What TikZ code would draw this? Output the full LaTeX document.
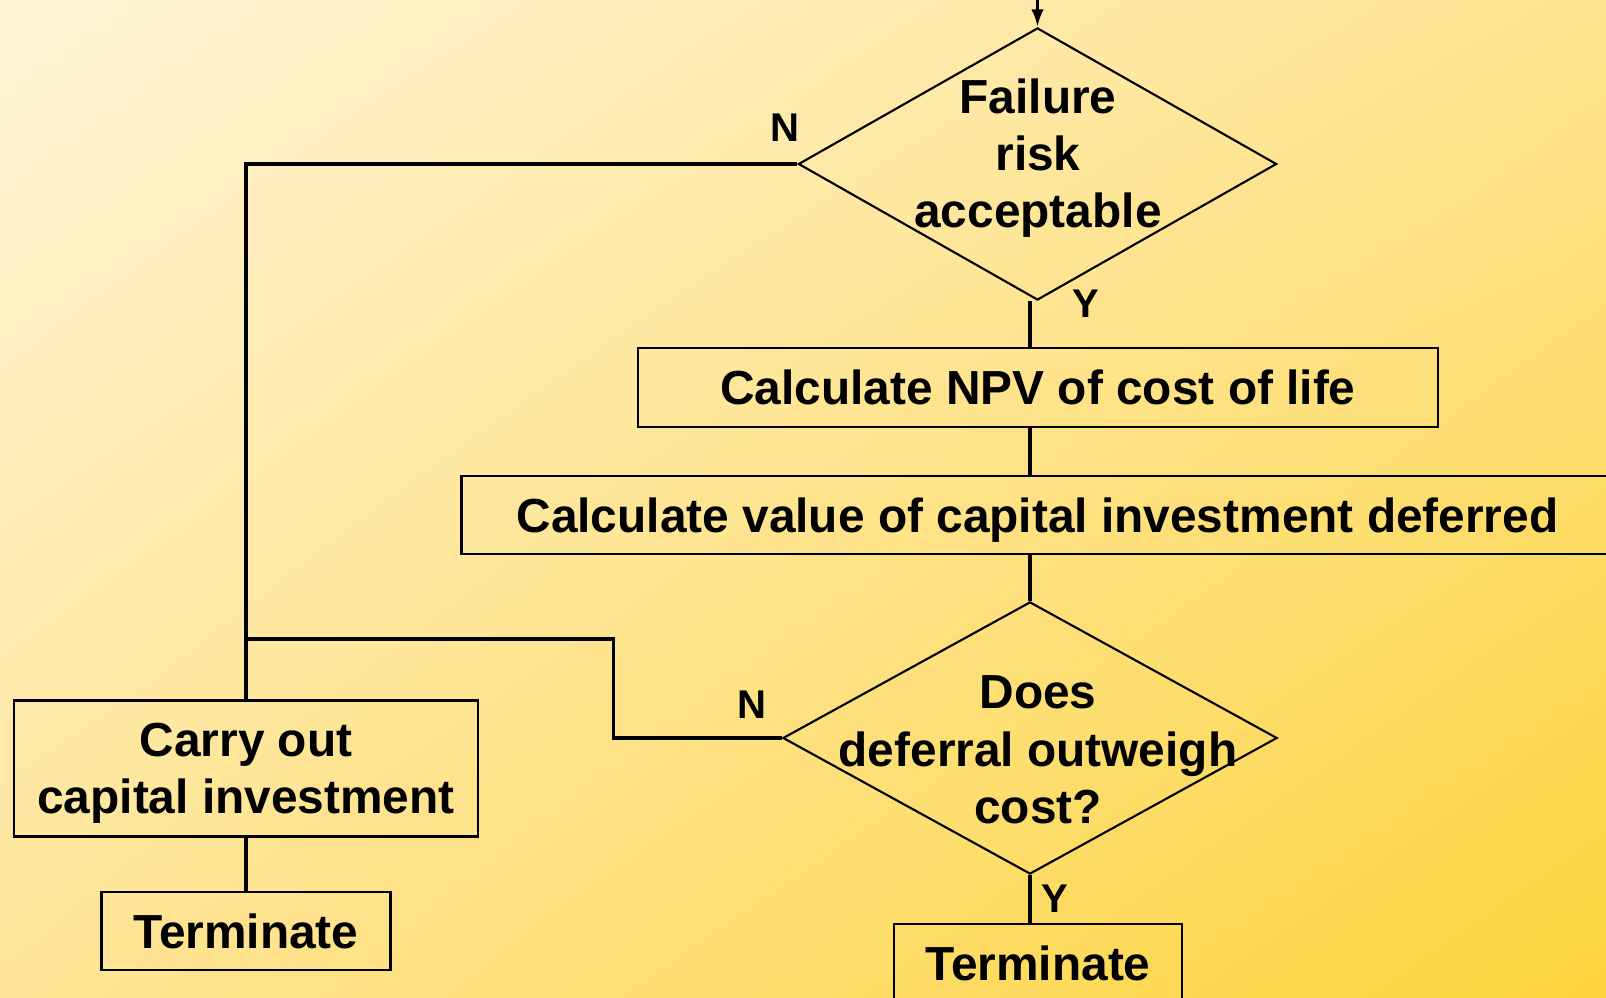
\documentclass[tikz,border=0pt]{standalone}
\usepackage{fontspec}
\setmainfont{Liberation Sans}
\usetikzlibrary{shapes.geometric,arrows.meta,shadings}

\definecolor{bgtl}{RGB}{255,245,216}
\definecolor{bgtr}{RGB}{254,227,144}
\definecolor{bgbl}{RGB}{254,229,152}
\definecolor{bgbr}{RGB}{252,212,60}

\begin{document}
\begin{tikzpicture}[x=0.01cm, y=-0.01cm,
    box/.style={draw, line width=0.7pt, inner sep=0pt, align=center,
      text depth=0pt, font=\bfseries\fontsize{13.6}{16.3}\selectfont},
    decision/.style={draw, diamond, line width=0.6pt, inner sep=0pt},
    dtext/.style={align=center, font=\bfseries\fontsize{13.6}{16.3}\selectfont},
    yn/.style={font=\bfseries\fontsize{11.4}{13}\selectfont},
    link/.style={line width=0.9pt}]
      \useasboundingbox (0,0) rectangle (1606,998);
      \shade[upper left=bgtl, upper right=bgtr, lower left=bgbl, lower right=bgbr]
        (0,0) rectangle (1606,998);

      % first decision
      \coordinate (entry) at (1037.5,-2);
      \node[decision, minimum width=4.78cm, minimum height=2.72cm] (risk) at (1037.5,164) {};
      \node[dtext] (risktxt) at (1038,158) {Failure\\risk\\acceptable};
      \node[yn] (n1) at (785,128) {N};
      \node[yn] (y1) at (1086,304) {Y};

      \node[box, minimum width=8cm, minimum height=0.79cm] (npv) at (1038,387.5) {Calculate NPV of cost of life};
      \node[box, minimum width=11.51cm, minimum height=0.78cm] (value) at (1037.5,515) {Calculate value of capital investment deferred};

      % second decision
      \node[decision, minimum width=4.94cm, minimum height=2.72cm] (check) at (1030,738) {};
      \node[dtext] (checktxt) at (1038,750) {Does\\deferral outweigh\\cost?};
      \node[yn] (n2) at (752,705) {N};
      \node[yn] (y2) at (1055,899) {Y};

      \node[box, minimum width=4.64cm, minimum height=1.36cm] (carry) at (246,768.5) {Carry out\\capital investment};
      \node[box, minimum width=2.89cm, minimum height=0.78cm] (term1) at (246,931) {Terminate};
      \node[box, minimum width=2.88cm, minimum height=0.78cm] (term2) at (1038,963) {Terminate};
      \coordinate (merge) at (246,639);

      \draw[link, -{Latex[length=5pt,width=3.6pt]}] (entry) -- (risk.north);
      \draw[link] (risk.west) -| (carry.north);
      \draw[link] (risk.south -| check.north) -- (npv.north -| check.north);
      \draw[link] (npv.south -| check.north) -- (value.north -| check.north);
      \draw[link] (value.south -| check.north) -- (check.north);
      \draw[link] (check.west) -- ++(-168,0) |- (merge);
      \draw[link] (carry.south) -- (term1.north);
      \draw[link] (check.south) -- (check.south |- term2.north);
    \end{tikzpicture}
\end{document}
